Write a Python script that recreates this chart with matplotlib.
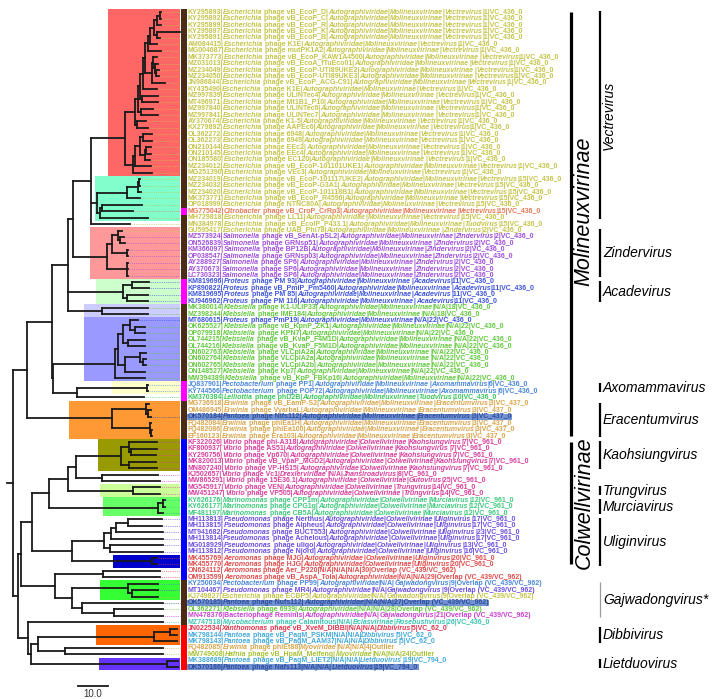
import matplotlib
matplotlib.use("Agg")
import matplotlib.pyplot as plt
from matplotlib.patches import Rectangle
from matplotlib.collections import LineCollection

# ---------------- data ----------------
# tip labels, top to bottom
labels = [
    "KY295893|Escherichia phage vB_EcoP_D|Autographiviridae|Molineuxvirinae|Vectrevirus|1|VC_436_0",
    "KY295892|Escherichia phage vB_EcoP_C|Autographiviridae|Molineuxvirinae|Vectrevirus|1|VC_436_0",
    "KY295899|Escherichia phage vB_EcoP_R|Autographiviridae|Molineuxvirinae|Vectrevirus|1|VC_436_0",
    "KY295897|Escherichia phage vB_EcoP_K|Autographiviridae|Molineuxvirinae|Vectrevirus|1|VC_436_0",
    "KY295891|Escherichia phage vB_EcoP_B|Autographiviridae|Molineuxvirinae|Vectrevirus|1|VC_436_0",
    "AM084415|Escherichia phage K1E|Autographiviridae|Molineuxvirinae|Vectrevirus|1|VC_436_0",
    "MG004687|Escherichia phage mutPK1A2|Autographiviridae|Molineuxvirinae|Vectrevirus|1|VC_436_0",
    "MK373773|Escherichia phage vB_EcoP_KAW1A4500|Autographiviridae|Molineuxvirinae|Vectrevirus|1|VC_436_0",
    "MZ031013|Escherichia phage vB_EcoA_fTuEco01|Autographiviridae|Molineuxvirinae|Vectrevirus|1|VC_436_0",
    "MZ234049|Escherichia phage vB_EcoP-UTI89UKE2|Autographiviridae|Molineuxvirinae|Vectrevirus|1|VC_436_0",
    "MZ234050|Escherichia phage vB_EcoP-UTI89UKE3|Autographiviridae|Molineuxvirinae|Vectrevirus|1|VC_436_0",
    "JN986844|Escherichia phage vB_EcoP_ACG-C91|Autographiviridae|Molineuxvirinae|Vectrevirus|1|VC_436_0",
    "KY435490|Escherichia phage K1E|Autographiviridae|Molineuxvirinae|Vectrevirus|1|VC_436_0",
    "MZ997839|Escherichia phage ULINTec4|Autographiviridae|Molineuxvirinae|Vectrevirus|1|VC_436_0",
    "MT496971|Escherichia phage Mt1B1_P10|Autographiviridae|Molineuxvirinae|Vectrevirus|1|VC_436_0",
    "MZ997840|Escherichia phage ULINTec6|Autographiviridae|Molineuxvirinae|Vectrevirus|1|VC_436_0",
    "MZ997841|Escherichia phage ULINTec7|Autographiviridae|Molineuxvirinae|Vectrevirus|1|VC_436_0",
    "AY370674|Escherichia phage K1-5|Autographiviridae|Molineuxvirinae|Vectrevirus|1|VC_436_0",
    "KX279892|Escherichia phage AAPEc6|Autographiviridae|Molineuxvirinae|Vectrevirus|1|VC_436_0",
    "OL362272|Escherichia phage 6948|Autographiviridae|Molineuxvirinae|Vectrevirus|1|VC_436_0",
    "OL362273|Escherichia phage 6949|Autographiviridae|Molineuxvirinae|Vectrevirus|1|VC_436_0",
    "ON210144|Escherichia phage EEc2|Autographiviridae|Molineuxvirinae|Vectrevirus|1|VC_436_0",
    "ON210145|Escherichia phage EEc4|Autographiviridae|Molineuxvirinae|Vectrevirus|1|VC_436_0",
    "ON185580|Escherichia phage EC120|Autographiviridae|Molineuxvirinae|Vectrevirus|1|VC_436_0",
    "MZ234012|Escherichia phage vB_EcoP-101101UKE1|Autographiviridae|Molineuxvirinae|Vectrevirus|1|VC_436_0",
    "MG251390|Escherichia phage VEc3|Autographiviridae|Molineuxvirinae|Vectrevirus|1|VC_436_0",
    "MZ234019|Escherichia phage vB_EcoP-101117UKE2|Autographiviridae|Molineuxvirinae|Vectrevirus|15|VC_436_0",
    "MZ234032|Escherichia phage vB_EcoP-G3A1|Autographiviridae|Molineuxvirinae|Vectrevirus|15|VC_436_0",
    "MZ234020|Escherichia phage vB_EcoP-101118B1|Autographiviridae|Molineuxvirinae|Vectrevirus|15|VC_436_0",
    "MK373771|Escherichia phage vB_EcoP_R4596|Autographiviridae|Molineuxvirinae|Vectrevirus|15|VC_436_0",
    "OP018999|Escherichia phage NTNC80A|Autographiviridae|Molineuxvirinae|Vectrevirus|15|VC_436_0",
    "MG775042|Citrobacter phage vB_CroP_CrRp3|Autographiviridae|Molineuxvirinae|Vectrevirus|15|VC_436_0",
    "MH729818|Escherichia phage LL11|Autographiviridae|Molineuxvirinae|Vectrevirus|15|VC_436_0",
    "MN384978|Escherichia phage vB_EcolP_P433.1|Autographiviridae|Molineuxvirinae|Tuodvirus|15|VC_436_0",
    "GU595417|Escherichia phage UAB_Phi78|Autographiviridae|Molineuxvirinae|Zindervirus|2|VC_436_0",
    "MZ573924|Salmonella phage vB_SenAt-pSL2|Autographiviridae|Molineuxvirinae|Zindervirus|2|VC_436_0",
    "ON526839|Salmonella phage GRNsp51|Autographiviridae|Molineuxvirinae|Zindervirus|2|VC_436_0",
    "KM366097|Salmonella phage BP12B|Autographiviridae|Molineuxvirinae|Zindervirus|2|VC_436_0",
    "OP038547|Salmonella phage GRNsp03|Autographiviridae|Molineuxvirinae|Zindervirus|2|VC_436_0",
    "AY288927|Salmonella phage SP6|Autographiviridae|Molineuxvirinae|Zindervirus|2|VC_436_0",
    "AY370673|Salmonella phage SP6|Autographiviridae|Molineuxvirinae|Zindervirus|2|VC_436_0",
    "LC730323|Salmonella phage SP6|Autographiviridae|Molineuxvirinae|Zindervirus|2|VC_436_0",
    "KM819696|Proteus phage PM 93|Autographiviridae|Molineuxvirinae|Acadevirus|11|VC_436_0",
    "KP890822|Proteus phage vB_PmiP_Pm5460|Autographiviridae|Molineuxvirinae|Acadevirus|11|VC_436_0",
    "KM819695|Proteus phage PM 85|Autographiviridae|Molineuxvirinae|Acadevirus|11|VC_436_0",
    "KU946962|Proteus phage PM 116|Autographiviridae|Molineuxvirinae|Acadevirus|11|VC_436_0",
    "MK380014|Klebsiella phage K1-ULIP33|Autographiviridae|Molineuxvirinae|N/A|18|VC_436_0",
    "MZ398244|Klebsiella phage IME184|Autographiviridae|Molineuxvirinae|N/A|18|VC_436_0",
    "MT680615|Proteus phage PmP19|Autographiviridae|Molineuxvirinae|N/A|22|VC_436_0",
    "OK625527|Klebsiella phage vB_KpnP_ZK1|Autographiviridae|Molineuxvirinae|N/A|22|VC_436_0",
    "OP079918|Klebsiella phage KPN7|Autographiviridae|Molineuxvirinae|N/A|22|VC_436_0",
    "OL744215|Klebsiella phage vB_KvaP_F4M1D|Autographiviridae|Molineuxvirinae|N/A|22|VC_436_0",
    "OL744216|Klebsiella phage vB_KvaP_F5M1D|Autographiviridae|Molineuxvirinae|N/A|22|VC_436_0",
    "ON602763|Klebsiella phage VLCpiA2a|Autographiviridae|Molineuxvirinae|N/A|22|VC_436_0",
    "ON602764|Klebsiella phage VLCpiA2a|Autographiviridae|Molineuxvirinae|N/A|22|VC_436_0",
    "ON602765|Klebsiella phage VLCpiA2b|Autographiviridae|Molineuxvirinae|N/A|22|VC_436_0",
    "ON148527|Klebsiella phage Kp7|Autographiviridae|Molineuxvirinae|N/A|22|VC_436_0",
    "MW394389|Klebsiella phage vB_KpP_FBKp16|Autographiviridae|Molineuxvirinae|N/A|22|VC_436_0",
    "JQ837901|Pectobacterium phage PP1|Autographiviridae|Molineuxvirinae|Axomammavirus|6|VC_436_0",
    "KY744566|Pectobacterium phage POP72|Autographiviridae|Molineuxvirinae|Axomammavirus|6|VC_436_0",
    "KM370384|Lelliottia phage phD2B|Autographiviridae|Molineuxvirinae|Tuodvirus|10|VC_436_0",
    "MG736918|Erwinia phage vB_EamP-S2|Autographiviridae|Molineuxvirinae|Eracentumvirus|3|VC_437_0",
    "OM486945|Erwinia phage VyarbaL|Autographiviridae|Molineuxvirinae|Eracentumvirus|3|VC_437_0",
    "OK570184|Pantoea phage Nifs112|Autographiviridae|Molineuxvirinae|Eracentumvirus|3|VC_437_0",
    "FQ482084|Erwinia phage phiEa1H|Autographiviridae|Molineuxvirinae|Eracentumvirus|3|VC_437_0",
    "FQ482086|Erwinia phage phiEa100|Autographiviridae|Molineuxvirinae|Eracentumvirus|3|VC_437_0",
    "EF160123|Erwinia phage Era103|Autographiviridae|Molineuxvirinae|Eracentumvirus|3|VC_437_0",
    "KF322026|Vibrio phage phi-A318|Autographiviridae|Colwellvirinae|Kaohsiungvirus|7|VC_961_0",
    "KF800937|Vibrio phage AS51|Autographiviridae|Colwellvirinae|Kaohsiungvirus|7|VC_961_0",
    "KY290756|Vibrio phage Vp670|Autographiviridae|Colwellvirinae|Kaohsiungvirus|7|VC_961_0",
    "MK820013|Vibrio phage vB_VpaP_MGD2|Autographiviridae|Colwellvirinae|Kaohsiungvirus|7|VC_961_0",
    "MN807240|Vibrio phage VP-HS15|Autographiviridae|Colwellvirinae|Kaohsiungvirus|7|VC_961_0",
    "KJ502657|Vibrio phage Vc1|Drexlerviridae|N/A|Jhansiroadvirus|8|VC_961_0",
    "MW865291|Vibrio phage 15E36.1|Autographiviridae|Colwellvirinae|Gutovirus|25|VC_961_0",
    "MG545917|Vibrio phage VEN|Autographiviridae|Colwellvirinae|Trungvirus|14|VC_961_0",
    "MW451247|Vibrio phage VP505|Autographiviridae|Colwellvirinae|Trungvirus|14|VC_961_0",
    "KY626176|Marinomonas phage CPP1m|Autographiviridae|Colwellvirinae|Murciavirus|12|VC_961_0",
    "KY626177|Marinomonas phage CPG1g|Autographiviridae|Colwellvirinae|Murciavirus|12|VC_961_0",
    "MF481197|Marinomonas phage CB5A|Autographiviridae|Colwellvirinae|Murciavirus|12|VC_961_0",
    "MH113813|Pseudomonas phage Nerthus|Autographiviridae|Colwellvirinae|Uliginvirus|17|VC_961_0",
    "MH113815|Pseudomonas phage Alpheus|Autographiviridae|Colwellvirinae|Uliginvirus|17|VC_961_0",
    "MT941682|Pseudomonas phage BUCT553|Autographiviridae|Colwellvirinae|Uliginvirus|23|VC_961_0",
    "MH113814|Pseudomonas phage Achelous|Autographiviridae|Colwellvirinae|Uliginvirus|17|VC_961_0",
    "MG018929|Pseudomonas phage uligo|Autographiviridae|Colwellvirinae|Uliginvirus|13|VC_961_0",
    "MH113812|Pseudomonas phage Njord|Autographiviridae|Colwellvirinae|Uliginvirus|16|VC_961_0",
    "MK455769|Aeromonas phage MJG|Autographiviridae|Colwellvirinae|Uliginvirus|20|VC_961_0",
    "MK455770|Aeromonas phage HJG|Autographiviridae|Colwellvirinae|Uliginvirus|20|VC_961_0",
    "ON624112|Aeromonas phage Aer_P220|N/A|N/A|N/A|30|Overlap (VC_439/VC_962)",
    "OM913599|Aeromonas phage vB_AspA_Tola|Autographiviridae|N/A|N/A|29|Overlap (VC_439/VC_962)",
    "KY250034|Pectobacterium phage PP99|Autographiviridae|N/A|Gajwadongvirus|9|Overlap (VC_439/VC_962)",
    "MT104467|Pseudomonas phage MR4|Autographiviridae|N/A|Gajwadongvirus|9|Overlap (VC_439/VC_962)",
    "KJ749827|Escherichia phage ECBP5|Autographiviridae|N/A|Gajwadongvirus|9|Overlap (VC_439/VC_962)",
    "OK570185|Pantoea phage Nufs112|Autographiviridae|N/A|N/A|27|Overlap (VC_439/VC_962)",
    "OL362271|Klebsiella phage 6939|Autographiviridae|N/A|N/A|28|Overlap (VC_439/VC_962)",
    "MN478376|Bacteriophage Reminis|Autographiviridae|N/A|Gajwadongvirus|21|Overlap (VC_439/VC_962)",
    "MZ747518|Mycobacterium phage Calamitous|N/A|Bclasvirinae|Rosebushvirus|26|VC_436_0",
    "JN022534|Xanthomonas phage vB_XveM_DIBBI|N/A|N/A|Dibbivirus|5|VC_62_0",
    "MK798144|Pantoea phage vB_PagM_PSKM|N/A|N/A|Dibbivirus|5|VC_62_0",
    "MK798143|Pantoea phage vB_PagM_AAM37|N/A|N/A|Dibbivirus|5|VC_62_0",
    "FQ482085|Erwinia phage phiEt88|Myoviridae|N/A|N/A|4|Outlier",
    "MW749008|Hafnia phage vB_HpaM_Meifeng|Myoviridae|N/A|N/A|24|Outlier",
    "MK388689|Pantoea phage vB_PagM_LIET2|N/A|N/A|Lietduovirus|19|VC_794_0",
    "OK570186|Pantoea phage Nafs113|N/A|N/A|Lietduovirus|19|VC_794_0",
]

# tree pieces (Newick, branch lengths in scale-bar units)
nw_k1e = ("((((((((((KY295893:0.33,KY295892:0.33):1.0,KY295899:1.33):1.0,(KY295897:7.67,KY295891:1.0):1.0)"
          ":1.33,AM084415:2.33):0.67,MG004687:4.33):1.0,((MK373773:1.33,(MZ031013:1.0,(MZ234049:1.0,"
          "MZ234050:1.0):0.33):0.67):0.33,JN986844:4.33):2.33):0.67,KY435490:4.67):1.0,(MZ997839:5.33,"
          "MT496971:5.33):0.67):0.67,(MZ997840:4.0,MZ997841:5.67):1.0):1.0,(AY370674:3.0,KX279892:3.67):0.67)")
nw_vb = ("((((OL362272:3.0,OL362273:3.0):1.0,((ON210144:1.67,ON210145:1.67):0.33,ON185580:1.67):1.67)"
         ":1.67,MZ234012:5.33):0.67,MG251390:6.33)")
nw_v15 = ("((((MZ234019:0.33,MZ234032:0.33):0.33,MZ234020:1.0):3.67,MK373771:4.33):10.0,"
          "((OP018999:13.33,MG775042:10.33):0.67,MH729818:16.0):1.0)")
nw_zinder = ("(((GU595417:1.33,(MZ573924:1.33,ON526839:1.67):0.67):2.0,(KM366097:0.33,OP038547:0.33):5.0)"
             ":1.67,(AY288927:0.33,AY370673:0.33,LC730323:0.33):6.67)")
nw_acade = "((KM819696:5.67,KP890822:5.67):3.0,(KM819695:7.0,KU946962:7.0):1.33)"
nw_k18 = "(MK380014:15.33,MZ398244:15.33)"
nw_k22 = ("((((MT680615:2.67,(OK625527:3.33,OP079918:3.33):1.67):2.33,(OL744215:5.67,OL744216:5.67):1.67)"
          ":1.67,((ON602763:2.0,(ON602764:1.0,ON602765:1.0):1.0):5.0,ON148527:6.67):2.33):1.0,MW394389:10.0)")
nw_axo = "((JQ837901:0.33,KY744566:0.33):23.33,KM370384:22.33)"
nw_era = ("((MG736918:1.0,(OM486945:1.0,OK570184:1.0):0.67):11.33,"
          "(FQ482084:0.33,(FQ482086:0.33,EF160123:0.33):0.17):12.67)")
nw_kao = "((KF322026:9.33,(KF800937:8.67,KY290756:8.33):0.67):2.67,(MK820013:9.0,MN807240:9.33):2.67)"
nw_murcia = "((KY626176:0.67,KY626177:0.67):1.67,MF481197:1.67)"
nw_ulig = ("(((((MH113813:11.33,MH113815:11.33):4.0,MT941682:15.67):1.67,MH113814:17.33):2.33,"
           "(MG018929:17.67,MH113812:17.67):2.0):10.67,(MK455769:1.67,MK455770:1.67):26.67)")
nw_overlap = ("((ON624112:19.0,OM913599:19.0):16.0,((KY250034:10.0,(MT104467:8.67,KJ749827:8.67):1.33):18.67,"
              "(OK570185:27.0,(OL362271:16.33,MN478376:16.33):10.67):3.33):5.67)")
nw_dib = ("(MZ747518:45.0,((((JN022534:2.33,MK798144:2.33):5.33,MK798143:7.67):38.67,"
          "(FQ482085:32.67,MW749008:32.67):9.0):2.33,(MK388689:3.67,OK570186:3.67):45.33):1.0)")

nw_moli = (f"(((((({nw_k1e}:3.33,{nw_vb}:2.67):11.33,{nw_v15}:2.0,MN384978:13.0):6.0,{nw_zinder}:11.33):1.67,"
           f"{nw_acade}:18.33,{nw_k18}:11.33):5.33,({nw_k22}:20.67,{nw_axo}:8.0):0.33):8.33,{nw_era}:28.33)")
nw_colw = (f"((((({nw_kao}:15.0,(KJ502657:18.67,MW865291:19.33):8.67):2.67,(MG545917:9.0,MW451247:9.0):21.67)"
           f":6.33,{nw_murcia}:36.33):5.67,{nw_ulig}:13.33):3.67,{nw_overlap}:11.33)")
tree_newick = f"({nw_moli}:4.67,({nw_colw}:1.0,{nw_dib}:3.33):1.67):2.0;"

host_colors = {
    "Escherichia": "#C5C44A", "Citrobacter": "#E57A55", "Salmonella": "#A04FDB",
    "Proteus": "#3F55DB", "Klebsiella": "#62C93E", "Pectobacterium": "#4A87D9",
    "Lelliottia": "#3DC75E", "Erwinia": "#D9A64C", "Pantoea": "#43A9D9",
    "Vibrio": "#D9409E", "Marinomonas": "#3FC97E", "Pseudomonas": "#6C4FE0",
    "Aeromonas": "#E14C4C", "Bacteriophage": "#C940D3", "Mycobacterium": "#3CC5B4",
    "Xanthomonas": "#E2344E", "Hafnia": "#A7C233",
}
highlighted = ["OK570184", "OK570185", "OK570186"]

# coloured clade boxes: first row, last row, left edge (tree units), colour
clade_boxes = [
    (0, 25, 33.7, "#FF6666"), (26, 32, 29.3, "#80FFCC"), (34, 41, 27.7, "#FF9999"),
    (42, 45, 29.7, "#CCFFCC"), (46, 47, 25.7, "#CCCCFF"), (48, 57, 25.7, "#9999FF"),
    (58, 59, 35.0, "#FFFFCC"), (61, 66, 20.7, "#FF9933"), (67, 71, 30.3, "#999900"),
    (74, 75, 31.0, "#CCFF99"), (76, 78, 32.0, "#66FF66"), (85, 86, 35.3, "#0000CC"),
    (89, 91, 31.0, "#33FF33"), (96, 98, 29.7, "#FF6600"), (101, 102, 30.7, "#6633FF"),
]
# cluster colour strip next to the labels
strip = [
    (0, 30, "#4B2C17"), (31, 31, "#FF00FF"), (32, 41, "#4B2C17"), (42, 45, "#FF00FF"),
    (46, 57, "#4B2C17"), (58, 60, "#FF00FF"), (61, 66, "#4B2C17"), (67, 88, "#0000FF"),
    (89, 95, "#4B2C17"), (96, 102, "#FF0000"),
]
# name, first row, last row, pixel centre of the rotated name
subfamilies = [("Molineuxvirinae", 0, 66, 211), ("Colwellvirinae", 67, 86, 503)]
genera = [
    ("Vectrevirus", 0, 32), ("Zindervirus", 34, 41), ("Acadevirus", 42, 45),
    ("Axomammavirus", 58, 59), ("Eracentumvirus", 61, 66), ("Kaohsiungvirus", 67, 71),
    ("Trungvirus", 74, 75), ("Murciavirus", 76, 78), ("Uliginvirus", 79, 86),
    ("Gajwadongvirus*", 89, 94), ("Dibbivirus", 96, 98), ("Lietduovirus", 101, 102),
]
scale_length = 10.0

# ---------------- layout helpers ----------------
PX0, PX_UNIT = 7.0, 3.0      # root stub pixel and pixels per branch-length unit
ROW0, ROW_PX = 12.3, 6.42    # first row pixel and row pitch
W, H = 714, 699


def px2x(px):
    return (px - PX0) / PX_UNIT


def py2row(py):
    return (py - ROW0) / ROW_PX


def parse_newick(s):
    s = s.strip().rstrip(";")
    pos = 0

    def node():
        nonlocal pos
        kids = []
        if s[pos] == "(":
            pos += 1
            while True:
                kids.append(node())
                if s[pos] == ",":
                    pos += 1
                    continue
                pos += 1  # ')'
                break
        start = pos
        while pos < len(s) and s[pos] not in ":,)":
            pos += 1
        name = s[start:pos]
        length = 0.0
        if pos < len(s) and s[pos] == ":":
            pos += 1
            start = pos
            while pos < len(s) and s[pos] not in ",)":
                pos += 1
            length = float(s[start:pos])
        return {"name": name, "len": length, "kids": kids}

    return node()


row_of = {lab.split("|")[0]: i for i, lab in enumerate(labels)}


def place(n, depth):
    n["x"] = depth + n["len"]
    if n["kids"]:
        ys = [place(k, n["x"]) for k in n["kids"]]
        n["y"] = (ys[0] + ys[-1]) / 2
    else:
        n["y"] = row_of[n["name"]]
    return n["y"]


tree = parse_newick(tree_newick)
place(tree, 0.0)

fig = plt.figure(figsize=(W / 100, H / 100), dpi=100)
ax = fig.add_axes([0, 0, 1, 1])
ax.set_xlim(px2x(0), px2x(W))
ax.set_ylim(py2row(H), py2row(0))
ax.axis("off")

box_right = px2x(180)
strip_l, strip_r = px2x(181), px2x(186.5)
label_x = px2x(187.5)

# clade boxes
for r0, r1, left, col in clade_boxes:
    ax.add_patch(Rectangle((left, r0 - 0.5), box_right - left, r1 - r0 + 1,
                           facecolor=col, edgecolor="none", zorder=0))

# tree branches
segs = []
leaves = []


def walk(n, parent_x):
    segs.append([(parent_x, n["y"]), (n["x"], n["y"])])
    if n["kids"]:
        segs.append([(n["x"], n["kids"][0]["y"]), (n["x"], n["kids"][-1]["y"])])
        for k in n["kids"]:
            walk(k, n["x"])
    else:
        leaves.append(n)


walk(tree, 0.0)
ax.add_collection(LineCollection(segs, colors="#1a1a1a", linewidths=1.3,
                                 capstyle="projecting", zorder=3))


def label_color(lab):
    acc, name = lab.split("|")[:2]
    if acc in highlighted:
        return "#2E4E9E"
    return host_colors[name.split(" ")[0]]


# dotted leaders from tips to the label column
for lf in leaves:
    col = label_color(labels[row_of[lf["name"]]])
    ax.plot([lf["x"], box_right], [lf["y"], lf["y"]], color=col, lw=0.6,
            ls=(0, (1, 1.2)), alpha=0.8, zorder=1)

# colour strip
for r0, r1, col in strip:
    ax.add_patch(Rectangle((strip_l, r0 - 0.5), strip_r - strip_l, r1 - r0 + 1,
                           facecolor=col, edgecolor="none", zorder=2))


def label_runs(lab):
    parts = lab.split("|")
    runs = [(parts[0] + "|", False)]
    host, rest = parts[1].split(" ", 1)
    if host == "Bacteriophage":
        runs.append((parts[1], False))
    else:
        runs += [(host, True), (" " + rest, False)]
    for i, p in enumerate(parts[2:]):
        runs.append(("|", False))
        runs.append((p, i < 3 and p != "N/A"))
    merged = []
    for txt, it in runs:
        if merged and merged[-1][1] == it:
            merged[-1] = (merged[-1][0] + txt, it)
        else:
            merged.append((txt, it))
    return merged


lab_font = dict(family="Liberation Sans", fontweight="bold", fontsize=5.05)
label_texts = {}
for i, lab in enumerate(labels):
    col = label_color(lab)
    prev = None
    pieces = []
    for txt, it in label_runs(lab):
        style = "italic" if it else "normal"
        if prev is None:
            prev = ax.text(label_x, i, txt, ha="left", va="center", color=col,
                           fontstyle=style, zorder=4, **lab_font)
        else:
            prev = ax.annotate(txt, xy=(1, 0), xycoords=prev, ha="left", va="bottom",
                               color=col, fontstyle=style, zorder=4, **lab_font)
        pieces.append(prev)
    label_texts[lab.split("|")[0]] = pieces

# highlight boxes behind selected labels
fig.canvas.draw()
rend = fig.canvas.get_renderer()
inv = ax.transData.inverted()
for acc in highlighted:
    pcs = label_texts[acc]
    x1 = inv.transform((pcs[-1].get_window_extent(rend).x1, 0))[0]
    r = row_of[acc]
    ax.add_patch(Rectangle((label_x - 0.3, r - 0.5), x1 - label_x + 0.6, 1.0,
                           facecolor="#7292D2", edgecolor="none", zorder=2.5))

# subfamily and genus brackets
fam_x, gen_x = px2x(571), px2x(600)
for name, r0, r1, text_py in subfamilies:
    ax.plot([fam_x, fam_x], [r0, r1], color="black", lw=2.3, solid_capstyle="butt")
    ax.text(px2x(584), py2row(text_py), name, rotation=90, ha="center", va="center",
            fontsize=15.5, fontstyle="italic", family="Liberation Sans")
for name, r0, r1 in genera:
    faint = name.endswith("*")
    ax.plot([gen_x, gen_x], [r0 - 0.2, r1 + 0.2], color="#9a9a9a" if faint else "black",
            lw=0.9 if faint else 1.6, solid_capstyle="butt")
    if name == "Vectrevirus":
        ax.text(px2x(609), (r0 + r1) / 2, name, rotation=90, ha="center", va="center",
                fontsize=10, fontstyle="italic", family="Liberation Sans")
    else:
        ax.text(px2x(603), (r0 + r1) / 2, name, ha="left", va="center",
                fontsize=10, fontstyle="italic", family="Liberation Sans")

# scale bar
sb_x, sb_row = px2x(78), py2row(686)
ax.plot([sb_x, sb_x + scale_length], [sb_row, sb_row], color="#1a1a1a", lw=1.3)
ax.text(sb_x + scale_length / 2, py2row(694), f"{scale_length:.1f}", ha="center",
        va="center", fontsize=7, family="Liberation Sans", color="#333333")

fig.savefig("out.png", dpi=100)
